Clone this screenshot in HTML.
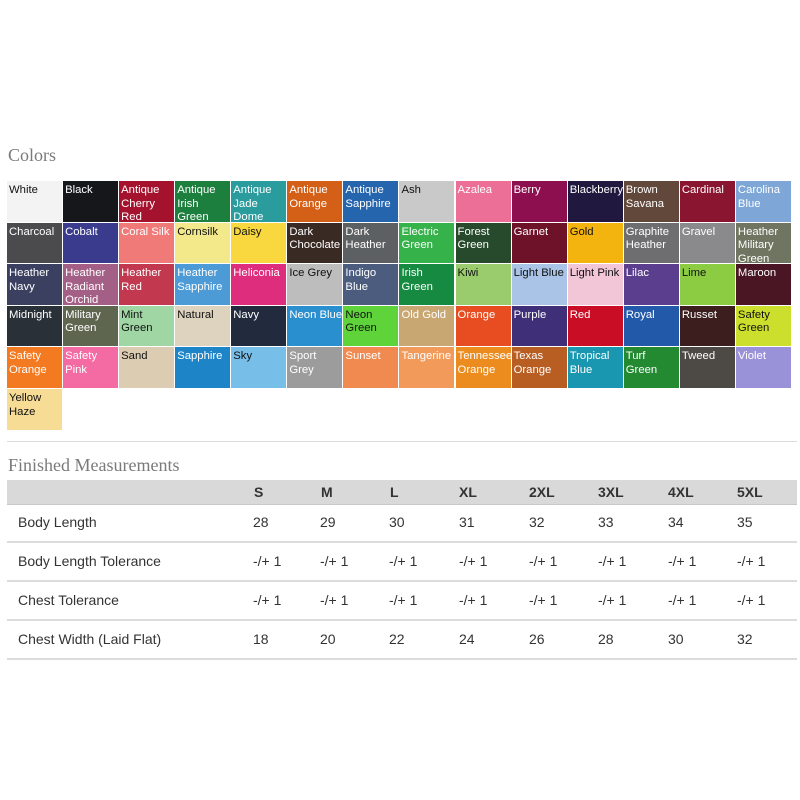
<!DOCTYPE html>
<html><head><meta charset="utf-8"><style>
body{margin:0;width:800px;height:800px;background:#fff;font-family:"Liberation Sans",Arial,sans-serif;position:relative;overflow:hidden}
.h{position:absolute;left:8px;font-family:"Liberation Serif",serif;color:#7a7a7a;font-size:18px}
.sw{position:absolute;width:55px;height:40.5px;font-size:11.3px;line-height:13.5px;padding:3px 0 0 2px;box-sizing:border-box;overflow:hidden;white-space:normal}
.t{position:absolute;font-size:14px;color:#333}
.hd{font-weight:bold}
.ln{position:absolute;left:7px;width:790px;height:2px;background:#dcdcdc}
</style></head><body>
<div class="h" style="top:145px">Colors</div>
<div id="grid"></div>
<div class="ln" style="top:441px;height:1px"></div>
<div class="h" style="top:455px">Finished Measurements</div>
<div style="position:absolute;left:7px;top:480px;width:790px;height:24px;background:#d9d9d9;border-bottom:1px solid #c8c8c8"></div>
<div id="tbl"></div>
<script>
const names=["White","Black","Antique Cherry Red","Antique Irish Green","Antique Jade Dome","Antique Orange","Antique Sapphire","Ash","Azalea","Berry","Blackberry","Brown Savana","Cardinal","Carolina Blue",
"Charcoal","Cobalt","Coral Silk","Cornsilk","Daisy","Dark Chocolate","Dark Heather","Electric Green","Forest Green","Garnet","Gold","Graphite Heather","Gravel","Heather Military Green",
"Heather Navy","Heather Radiant Orchid","Heather Red","Heather Sapphire","Heliconia","Ice Grey","Indigo Blue","Irish Green","Kiwi","Light Blue","Light Pink","Lilac","Lime","Maroon",
"Midnight","Military Green","Mint Green","Natural","Navy","Neon Blue","Neon Green","Old Gold","Orange","Purple","Red","Royal","Russet","Safety Green",
"Safety Orange","Safety Pink","Sand","Sapphire","Sky","Sport Grey","Sunset","Tangerine","Tennessee Orange","Texas Orange","Tropical Blue","Turf Green","Tweed","Violet",
"Yellow Haze"];
const cols=["#f3f3f3","#15171a","#a5122e","#1d7f3e","#2a9c9e","#d45f17","#2565ae","#c9c9c9","#eb6f97","#8e0f50","#21183f","#62483a","#8a1530","#7ea6d6",
"#4b4b4d","#3b3b8e","#f07a78","#f4e98a","#f8d83e","#3a2a24","#5d6062","#35b24a","#264a2b","#6e1229","#f4b410","#6e6e70","#8a8a8c","#6f7560",
"#3b4060","#a45f86","#c2384f","#4c9ad6","#df2d7e","#bdbdbd","#4b5c7e","#178a42","#9acb6c","#a9c4e6","#f2c6d6","#5b3f8e","#8ccc42","#4a1624",
"#293038","#5f6650","#9fd6a4","#ddd3bf","#222a3e","#2a8fcf","#5ed43a","#c8a772","#e84d22","#3e2f78","#c80d25","#2259a8","#3c1e1e","#ccdf2c",
"#f37a20","#f46aa3","#dcccb2","#1e84c8","#77bfe8","#9c9c9c","#f08a50","#f29a5a","#ec8c1e","#b85e22","#1a97b0","#238a32","#4d4a46","#9a92d8",
"#f7dc96"];
const dark=["Black","Antique Cherry Red","Antique Irish Green","Antique Jade Dome","Antique Orange","Antique Sapphire","Azalea","Berry","Blackberry","Brown Savana","Cardinal","Carolina Blue","Charcoal","Cobalt","Coral Silk","Dark Chocolate","Dark Heather","Electric Green","Forest Green","Garnet","Graphite Heather","Gravel","Heather Military Green","Heather Navy","Heather Radiant Orchid","Heather Red","Heather Sapphire","Heliconia","Indigo Blue","Irish Green","Lilac","Maroon","Midnight","Military Green","Navy","Neon Blue","Old Gold","Orange","Purple","Red","Royal","Russet","Safety Orange","Safety Pink","Sapphire","Sport Grey","Sunset","Tangerine","Tennessee Orange","Texas Orange","Tropical Blue","Turf Green","Tweed","Violet"];
const g=document.getElementById('grid');
names.forEach((n,i)=>{const d=document.createElement('div');d.className='sw';


d.style.left=(7+(i%14)*56.07)+'px';d.style.top=(181+Math.floor(i/14)*41.6)+'px';
d.style.background=cols[i];d.style.color=dark.includes(n)?'#fff':'#111';d.textContent=n;g.appendChild(d);});
const sizes=["S","M","L","XL","2XL","3XL","4XL","5XL"];
const xs=[253,320,389,459,529,598,668,737];
const rows=["Body Length","Body Length Tolerance","Chest Tolerance","Chest Width (Laid Flat)"];
const vals=[["28","29","30","31","32","33","34","35"],Array(8).fill("-/+ 1"),Array(8).fill("-/+ 1"),["18","20","22","24","26","28","30","32"]];
const t=document.getElementById('tbl');
function add(txt,x,y,cls,nm){const e=document.createElement('div');e.className='t '+cls;e.style.left=x+'px';e.style.top=y+'px';e.textContent=txt;


t.appendChild(e);}
sizes.forEach((s,i)=>add(s,xs[i]+(s.length>1?0:1),484,'hd','size-header-'+s.toLowerCase()));
rows.forEach((r,j)=>{const y=514+j*39;add(r,18,y,'','row-label');vals[j].forEach((v,i)=>add(v,xs[i],y,'','cell-value'));
const l=document.createElement('div');l.className='ln';l.style.top=(541+j*39)+'px';


t.appendChild(l);});
</script>
</body></html>
